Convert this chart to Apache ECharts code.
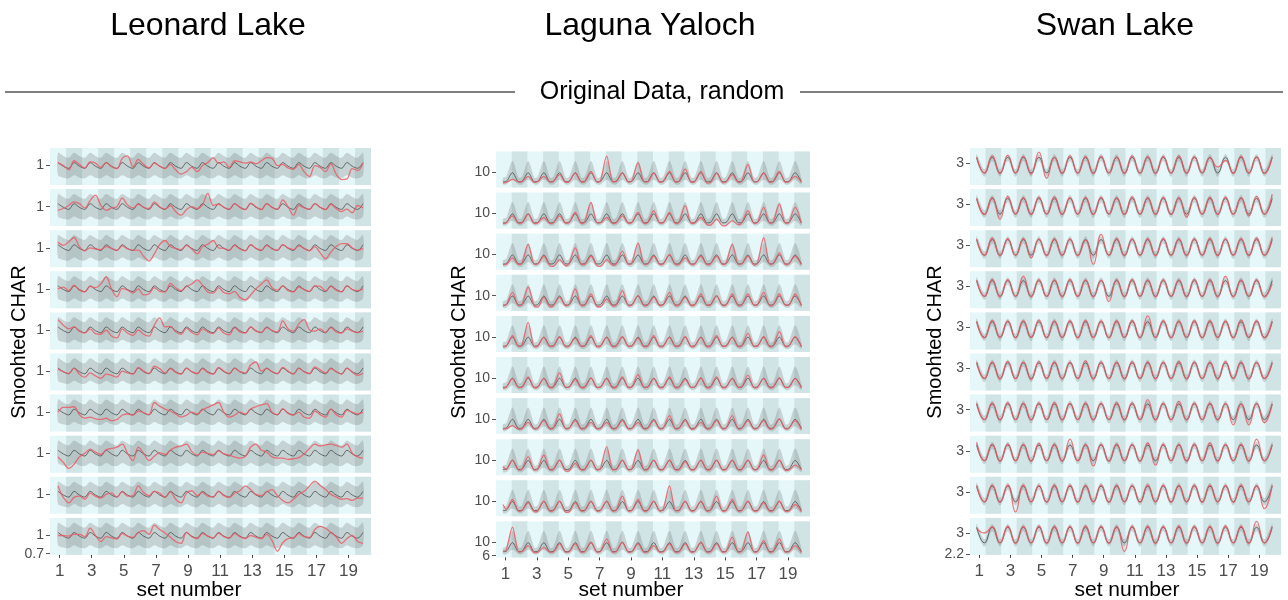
<!DOCTYPE html>
<html>
<head>
<meta charset="utf-8">
<script src="https://cdn.jsdelivr.net/npm/echarts@6/dist/echarts.min.js"></script>
<style>
  html, body { margin: 0; padding: 0; background: #ffffff; }
  #chart { width: 1288px; height: 600px; }
</style>
</head>
<body>
<div id="chart"></div>
<script>
// ---------------- data ----------------
const lakeNames = ['Leonard Lake', 'Laguna Yaloch', 'Swan Lake'];
const sectionLabel = 'Original Data, random';
const yTitle = 'Smoohted CHAR';
const xTitle = 'set number';
const setTicks = [1, 3, 5, 7, 9, 11, 13, 15, 17, 19];
// shaded (every other) set spans along the x axis
const shadedSpans = [[1.4, 2.4], [3.4, 4.4], [5.4, 6.4], [7.4, 8.4], [9.4, 10.4],
                     [11.4, 12.4], [13.4, 14.4], [15.4, 16.4], [17.4, 18.4], [19.4, 20.4]];

// Leonard Lake: three samples per set cycle
const leonardOffsets = [0.9, 1.23, 1.57];
const leonardMeanCycle = [1.05, 0.99, 0.955];
const leonardLowCycle = [0.84, 0.80, 0.79];
const leonardHighCycle = [1.21, 1.16, 1.13];
const leonardTick = 1;
const leonardLowTick = 0.7;
const leonardRed = [
  [1.05,1.00,0.93, 1.08,1.02,0.96, 1.06,1.04,0.97, 1.05,0.98,0.95, 1.12,1.16,0.98, 1.10,1.02,0.96, 1.04,0.99,0.95, 1.02,0.93,0.86, 0.90,0.97,0.90, 1.00,1.05,1.13, 1.04,1.06,0.97, 1.08,1.06,1.04, 1.06,1.03,1.08, 1.13,1.12,1.00, 1.02,0.96,0.94, 1.02,0.90,0.82, 1.00,0.97,0.90, 1.03,0.86,0.77, 0.78,0.95,0.92, 1.04],
  [0.94,0.97,1.02, 1.08,1.05,0.98, 1.10,1.19,1.02, 0.94,0.98,1.00, 1.14,1.03,0.98, 1.04,0.99,0.97, 1.08,1.00,0.96, 1.02,0.92,0.86, 0.95,1.00,0.97, 1.03,1.22,1.02, 1.04,0.99,0.96, 1.05,0.99,0.95, 1.06,1.00,0.95, 1.05,0.99,0.96, 1.11,1.00,0.86, 1.02,0.98,0.96, 1.05,0.99,0.95, 1.04,0.97,0.92, 0.96,0.90,1.02, 0.98],
  [1.09,1.04,1.10, 1.17,1.02,0.95, 1.00,0.98,0.97, 1.02,0.99,0.96, 1.03,0.98,0.96, 0.96,0.86,0.78, 0.90,1.05,1.12, 1.02,0.99,0.97, 1.04,0.98,0.90, 1.02,1.06,1.12, 1.00,0.99,0.96, 1.04,0.98,0.95, 1.05,0.99,0.96, 1.04,0.98,0.96, 1.05,1.00,0.97, 1.03,0.99,0.95, 1.02,0.92,0.82, 0.93,1.02,1.07, 1.07,1.00,0.96, 0.99],
  [1.00,1.03,0.97, 1.06,0.98,0.95, 1.04,1.02,1.08, 1.20,1.00,0.87, 1.01,0.98,0.93, 1.00,0.90,0.92, 1.02,0.96,0.95, 1.09,1.02,0.97, 1.04,1.08,1.15, 1.06,0.95,0.93, 1.02,0.94,0.92, 0.96,0.86,0.82, 0.90,1.00,1.08, 1.15,1.02,0.98, 1.05,0.97,0.95, 1.03,0.99,0.96, 1.05,1.04,0.97, 1.04,0.98,0.95, 1.05,0.99,0.97, 1.00],
  [1.17,1.08,1.02, 1.05,0.98,0.95, 1.02,0.94,0.93, 1.00,0.90,0.87, 1.02,0.95,0.91, 1.00,0.93,0.90, 1.08,1.20,1.05, 1.06,0.97,0.93, 1.03,0.96,0.92, 1.02,0.97,0.94, 1.03,0.95,0.92, 1.04,0.97,0.95, 1.05,0.98,0.96, 1.04,0.99,0.97, 1.15,1.02,0.98, 1.10,1.17,1.00, 0.98,1.02,0.96, 1.04,0.97,0.95, 1.02,0.98,0.96, 0.98],
  [1.03,0.99,0.96, 1.05,0.95,0.90, 0.97,0.92,0.88, 0.95,0.93,0.90, 1.00,0.97,0.95, 1.06,1.00,0.96, 1.08,1.04,0.97, 1.04,0.98,0.95, 1.05,0.99,0.96, 1.04,0.98,0.95, 1.06,1.00,0.96, 1.05,0.99,0.97, 1.10,1.15,1.00, 1.04,0.99,0.96, 1.06,1.00,0.95, 1.05,0.99,0.96, 1.07,1.02,0.97, 1.04,0.99,0.95, 1.05,0.98,0.93, 0.97],
  [1.00,1.08,1.08, 1.09,0.96,0.90, 0.92,0.89,0.88, 0.90,0.86,0.88, 0.95,0.97,0.95, 1.02,0.99,0.96, 1.16,1.10,1.05, 1.02,0.97,0.92, 0.95,1.00,0.97, 1.04,1.08,1.12, 1.16,1.00,0.92, 0.95,1.00,0.97, 1.05,1.09,1.12, 1.14,1.00,0.96, 1.06,0.98,0.95, 1.00,0.92,0.90, 1.02,0.96,0.92, 1.05,0.96,0.92, 1.03,1.00,0.97, 1.00],
  [0.94,0.85,0.75, 0.82,0.94,1.00, 1.07,1.02,0.98, 1.06,1.08,1.10, 1.15,1.00,0.88, 1.10,1.00,0.88, 0.95,1.01,0.98, 1.05,1.10,1.12, 1.15,1.03,0.97, 1.02,1.00,0.98, 1.04,0.99,0.97, 0.94,0.92,0.95, 1.10,1.15,1.05, 1.02,0.94,0.92, 0.92,0.90,0.91, 0.93,0.99,1.08, 1.15,1.12,1.14, 1.15,1.13,1.10, 1.15,1.00,0.94, 0.92],
  [1.14,0.95,0.86, 0.95,0.97,0.92, 1.02,0.97,0.94, 1.00,1.02,0.96, 1.04,0.97,0.98, 1.14,1.03,0.98, 1.05,1.02,0.95, 1.04,0.92,0.86, 1.02,1.06,0.98, 1.03,0.97,0.96, 1.05,0.98,0.95, 1.02,1.06,1.14, 1.08,1.00,0.98, 1.04,1.08,0.98, 0.90,0.86,0.92, 1.00,1.05,1.14, 1.22,1.15,1.08, 1.00,0.96,0.92, 0.93,0.90,0.94, 0.94],
  [1.00,1.00,0.99, 1.02,1.02,0.98, 1.12,1.00,0.90, 0.98,0.96,0.94, 1.03,0.99,0.97, 1.05,1.08,1.02, 1.17,1.10,1.04, 0.97,0.90,0.87, 1.05,0.98,0.95, 1.03,0.99,0.96, 1.04,0.98,0.96, 1.03,0.98,0.95, 1.00,0.97,0.95, 1.02,0.92,0.74, 0.88,0.95,0.96, 1.03,0.98,0.97, 1.10,1.15,1.12, 1.05,0.98,0.87, 0.95,1.00,0.90, 0.87]
];

// Laguna Yaloch: trough start, trough end, peak in each set cycle
const lagunaOffsets = [0.85, 1.05, 1.45];
const lagunaMeanCycle = [7.2, 7.3, 9.9];
const lagunaLowCycle = [6.4, 6.4, 7.8];
const lagunaHighCycle = [8.4, 8.7, 13.4];
const lagunaTick = 10;
const lagunaLowTick = 6;
const lagunaRed = [
  [6.8,7.0,7.9, 7.1,7.2,8.8, 7.0,7.2,8.8, 7.1,7.3,9.3, 7.0,7.2,9.8, 7.1,7.3,10.3, 7.0,7.4,14.8, 7.2,7.3,9.8, 7.1,7.5,12.8, 7.2,7.2,9.8, 7.0,7.3,10.3, 7.1,7.3,11.0, 7.0,7.2,10.3, 6.8,6.9,9.8, 6.9,7.1,9.3, 7.0,7.4,12.3, 7.1,7.2,9.8, 7.0,7.3,10.3, 7.0,7.2,8.8, 7.1],
  [7.0,7.2,9.3, 7.1,7.2,9.8, 7.0,7.2,8.8, 7.0,7.2,9.3, 7.1,7.3,10.3, 7.0,7.5,13.3, 7.2,7.2,8.8, 7.0,7.2,9.3, 7.1,7.3,10.3, 7.0,7.3,10.8, 7.1,7.2,10.3, 7.0,7.4,12.3, 7.0,7.1,8.8, 6.6,6.5,8.3, 6.3,6.4,7.8, 6.6,7.2,10.8, 7.0,7.3,11.8, 7.1,7.4,12.8, 7.1,7.3,11.8, 7.1],
  [7.0,7.1,9.0, 7.0,7.4,13.0, 7.1,7.2,9.5, 6.6,6.5,8.5, 6.6,7.3,12.0, 7.0,7.1,9.5, 6.6,6.5,8.5, 6.8,7.2,11.0, 7.1,7.5,13.5, 7.1,7.2,9.5, 7.0,7.2,10.0, 7.0,7.1,9.0, 7.0,7.2,9.5, 7.0,7.2,9.5, 7.0,7.4,13.0, 7.1,7.2,9.5, 6.8,7.5,15.0, 7.1,7.3,10.5, 7.0,7.2,9.5, 7.0],
  [7.0,7.3,11.0, 7.0,7.3,12.5, 6.8,6.6,9.5, 6.6,7.0,9.5, 7.0,7.3,12.0, 7.0,7.2,10.5, 6.7,6.7,9.0, 6.9,7.2,11.5, 7.0,7.2,10.0, 7.0,7.2,9.5, 7.0,7.3,11.0, 7.0,7.2,9.5, 7.0,7.3,10.5, 7.1,7.2,10.0, 7.0,7.2,10.5, 7.0,7.2,10.5, 7.1,7.3,11.0, 7.0,7.2,10.5, 7.1,7.2,10.5, 7.0],
  [7.0,7.2,10.3, 7.1,7.5,14.3, 7.0,7.2,9.8, 7.1,7.2,10.0, 7.0,7.2,9.5, 7.1,7.3,10.3, 7.0,7.2,9.8, 7.0,7.2,10.0, 7.1,7.2,9.5, 7.0,7.2,10.3, 7.0,7.2,9.8, 7.1,7.2,10.0, 7.0,7.2,9.8, 7.0,7.2,10.3, 7.1,7.2,9.8, 7.0,7.3,11.0, 7.1,7.2,10.0, 7.0,7.3,11.5, 7.0,7.2,10.0, 7.0],
  [7.0,7.2,9.8, 7.1,7.2,10.3, 7.0,7.2,9.8, 7.0,7.3,11.5, 7.1,7.2,9.5, 7.0,7.2,10.0, 7.1,7.2,9.8, 7.0,7.2,10.3, 7.0,7.3,11.0, 7.1,7.2,9.8, 7.0,7.2,10.3, 7.0,7.2,9.5, 7.1,7.2,10.0, 7.0,7.2,10.3, 7.0,7.2,9.8, 7.1,7.3,10.8, 7.0,7.2,9.8, 7.0,7.2,10.0, 7.1,7.2,9.8, 7.0],
  [7.0,7.1,8.0, 6.9,7.1,9.0, 7.0,7.2,9.5, 7.0,7.3,11.5, 7.0,7.2,9.5, 7.0,7.1,9.0, 7.0,7.1,9.0, 7.0,7.2,9.5, 7.0,7.1,9.0, 7.0,7.2,9.5, 7.0,7.3,11.0, 7.0,7.2,9.5, 6.9,7.1,9.0, 7.0,7.2,9.5, 7.0,7.3,11.0, 7.0,7.2,9.5, 7.0,7.2,9.5, 7.0,7.2,10.0, 7.0,7.2,9.5, 6.9],
  [8.0,7.2,10.0, 7.0,7.3,11.0, 7.0,7.3,11.5, 7.0,7.2,10.0, 6.7,6.8,9.0, 7.0,7.2,10.0, 7.0,7.5,14.0, 7.1,7.2,10.0, 7.0,7.4,13.0, 7.0,7.2,10.0, 7.0,7.2,10.0, 7.0,7.1,9.5, 7.0,7.2,10.0, 7.0,7.2,10.0, 7.0,7.2,10.0, 7.0,7.2,10.0, 7.0,7.3,11.5, 7.0,7.2,10.0, 6.9,7.0,8.5, 7.2],
  [9.0,7.6,10.5, 7.0,7.2,9.5, 6.8,7.0,10.0, 7.0,7.2,10.0, 6.7,6.8,9.5, 7.0,7.2,10.0, 7.0,7.2,10.0, 7.0,7.3,11.5, 7.0,7.2,10.5, 7.0,7.2,10.0, 7.0,7.6,14.5, 7.1,7.2,10.0, 7.0,7.2,10.0, 7.0,7.3,11.5, 7.0,7.2,10.5, 7.0,7.2,10.0, 7.0,7.1,9.5, 7.0,7.2,10.0, 6.9,7.0,9.0, 6.9],
  [7.3,7.8,14.5, 7.1,7.2,9.0, 6.9,7.0,8.5, 7.0,7.1,9.5, 7.0,7.1,9.5, 7.0,7.2,10.0, 7.0,7.3,11.0, 7.0,7.2,10.0, 7.0,7.1,9.5, 7.0,7.1,9.0, 7.0,7.1,9.5, 7.0,7.1,9.5, 7.0,7.2,10.0, 7.0,7.1,9.5, 7.0,7.3,11.5, 7.0,7.4,13.0, 7.0,7.2,10.5, 7.0,7.3,11.0, 7.0,7.1,9.0, 6.9]
];

// Swan Lake: peak and trough of each set cycle
const swanOffsets = [0.83, 1.33];
const swanMeanCycle = [3.22, 2.62];
const swanLowCycle = [3.08, 2.48];
const swanHighCycle = [3.35, 2.76];
const swanTick = 3;
const swanLowTick = 2.2;
const swanRed = [
  [3.22,2.62, 3.28,2.60, 3.30,2.62, 3.26,2.58, 3.42,2.42, 3.22,2.60, 3.28,2.62, 3.25,2.60, 3.27,2.63, 3.24,2.60, 3.28,2.62, 3.25,2.60, 3.26,2.62, 3.28,2.60, 3.25,2.63, 3.20,2.85, 3.10,2.60, 3.27,2.62, 3.25,2.60, 3.24],
  [3.22,2.60, 3.26,2.42, 3.30,2.62, 3.25,2.60, 3.27,2.62, 3.28,2.60, 3.25,2.62, 3.26,2.60, 3.27,2.63, 3.25,2.60, 3.28,2.62, 3.25,2.60, 3.26,2.60, 3.25,2.50, 3.27,2.62, 3.26,2.60, 3.27,2.62, 3.25,2.55, 3.30,2.62, 3.39],
  [3.25,2.62, 3.28,2.60, 3.26,2.62, 3.27,2.52, 3.25,2.60, 3.26,2.62, 3.25,2.60, 3.20,2.27, 3.42,2.62, 3.27,2.60, 3.25,2.62, 3.26,2.60, 3.27,2.62, 3.25,2.60, 3.26,2.62, 3.27,2.60, 3.25,2.62, 3.26,2.60, 3.28,2.62, 3.30],
  [3.24,2.62, 3.27,2.60, 3.26,2.62, 3.39,2.60, 3.26,2.62, 3.25,2.60, 3.27,2.62, 3.25,2.60, 3.24,2.42, 3.26,2.60, 3.27,2.62, 3.25,2.60, 3.26,2.62, 3.25,2.60, 3.27,2.62, 3.26,2.60, 3.39,2.60, 3.25,2.62, 3.26,2.60, 3.10],
  [3.24,2.60, 3.27,2.62, 3.25,2.60, 3.26,2.62, 3.28,2.60, 3.25,2.62, 3.26,2.60, 3.27,2.62, 3.25,2.60, 3.26,2.62, 3.27,2.60, 3.45,2.62, 3.26,2.60, 3.25,2.62, 3.27,2.60, 3.26,2.62, 3.25,2.60, 3.28,2.62, 3.26,2.60, 3.25],
  [3.25,2.62, 3.26,2.60, 3.28,2.62, 3.25,2.58, 3.27,2.62, 3.26,2.60, 3.25,2.62, 3.30,2.60, 3.26,2.62, 3.25,2.60, 3.27,2.62, 3.26,2.60, 3.25,2.62, 3.28,2.60, 3.26,2.62, 3.25,2.60, 3.27,2.62, 3.26,2.60, 3.25,2.62, 3.24],
  [3.25,2.62, 3.26,2.60, 3.27,2.62, 3.25,2.60, 3.26,2.62, 3.27,2.60, 3.25,2.62, 3.26,2.60, 3.25,2.62, 3.27,2.60, 3.26,2.62, 3.39,2.60, 3.25,2.62, 3.32,2.60, 3.26,2.62, 3.25,2.60, 3.24,2.42, 3.22,2.42, 3.25,2.50, 3.22],
  [3.32,2.62, 3.26,2.60, 3.27,2.62, 3.25,2.60, 3.28,2.62, 3.26,2.60, 3.45,2.62, 3.25,2.42, 3.26,2.60, 3.27,2.62, 3.25,2.60, 3.30,2.45, 3.26,2.62, 3.25,2.60, 3.27,2.62, 3.30,2.60, 3.25,2.62, 3.26,2.60, 3.45,2.62, 3.25],
  [3.25,2.62, 3.26,2.60, 3.27,2.23, 3.26,2.62, 3.25,2.60, 3.27,2.62, 3.26,2.60, 3.25,2.62, 3.27,2.60, 3.26,2.62, 3.25,2.60, 3.27,2.62, 3.26,2.60, 3.25,2.62, 3.27,2.60, 3.26,2.62, 3.25,2.60, 3.27,2.62, 3.25,2.36, 3.26],
  [3.19,3.00, 3.24,2.62, 3.26,2.60, 3.25,2.62, 3.27,2.60, 3.26,2.62, 3.25,2.60, 3.27,2.62, 3.26,2.60, 3.25,2.29, 3.27,2.62, 3.26,2.60, 3.25,2.62, 3.27,2.60, 3.26,2.62, 3.25,2.60, 3.27,2.62, 3.26,2.60, 3.45,2.62, 3.25]
];

// ---------------- layout & style ----------------
const FONT = '"Liberation Sans", Arial, Helvetica, sans-serif';
const PANEL_LIGHT = '#e6f7f9';
const PANEL_DARK = '#d0e3e5';
const RIBBON = 'rgba(112,118,120,0.28)';
const MEAN_COLOR = 'rgba(70,70,70,0.75)';
const RED_COLOR = 'rgba(236,88,98,0.8)';
const ROW_STEP = 41.1;
const X_MIN = 0.4, X_MAX = 20.4;

const lakes = [
  { left: 50, width: 321, top: 148, height: 37, yMin: 0.68, yMax: 1.29, smooth: 0.35,
    offsets: leonardOffsets, mean: leonardMeanCycle, low: leonardLowCycle, high: leonardHighCycle,
    red: leonardRed, tick: leonardTick, lowTick: leonardLowTick },
  { left: 496, width: 314, top: 151.5, height: 36, yMin: 5.5, yMax: 16.2, smooth: 0.3,
    offsets: lagunaOffsets, mean: lagunaMeanCycle, low: lagunaLowCycle, high: lagunaHighCycle,
    red: lagunaRed, tick: lagunaTick, lowTick: lagunaLowTick },
  { left: 970, width: 311, top: 148, height: 37, yMin: 2.16, yMax: 3.58, smooth: 0.5,
    offsets: swanOffsets, mean: swanMeanCycle, low: swanLowCycle, high: swanHighCycle,
    red: swanRed, tick: swanTick, lowTick: swanLowTick }
];

const grids = [], xAxes = [], yAxes = [], series = [];

function valueAxis(gi, lake, value) {
  return {
    gridIndex: gi, type: 'value', position: 'left', offset: 0, min: lake.yMin, max: lake.yMax,
    axisLine: { show: false }, splitLine: { show: false },
    axisTick: { show: true, customValues: [value], length: 4, lineStyle: { color: '#555', width: 1 } },
    axisLabel: { customValues: [value], showMinLabel: true, hideOverlap: false, margin: 6,
                 fontSize: 14, color: '#4d4d4d', fontFamily: FONT }
  };
}

lakes.forEach(function (lake) {
  const n = lake.offsets.length;
  lake.red.forEach(function (row, r) {
    const gi = grids.length;
    const isBottom = r === lake.red.length - 1;
    // sample position: whole set cycles plus the offset inside the cycle
    const xs = row.map(function (_, i) { return Math.floor(i / n) + lake.offsets[i % n]; });
    const meanVals = xs.map(function (_, i) { return lake.mean[i % n]; });
    const lowVals = xs.map(function (_, i) { return lake.low[i % n]; });
    const highVals = xs.map(function (_, i) { return lake.high[i % n]; });

    grids.push({
      left: lake.left, width: lake.width, top: lake.top + r * ROW_STEP, height: lake.height,
      show: true, backgroundColor: PANEL_LIGHT, borderWidth: 0
    });
    xAxes.push({
      gridIndex: gi, type: 'value', min: X_MIN, max: X_MAX,
      axisLine: { show: false }, splitLine: { show: false },
      axisTick: { show: isBottom, customValues: setTicks, length: 3, lineStyle: { color: '#444', width: 1 } },
      axisLabel: { show: isBottom, customValues: setTicks, margin: 8, fontSize: 17, color: '#4d4d4d',
                   fontFamily: FONT, hideOverlap: false, showMinLabel: true }
    });
    const yi = yAxes.length;
    yAxes.push(valueAxis(gi, lake, lake.tick));
    // bottom facet also marks the lower end of the shared scale
    if (isBottom) yAxes.push(valueAxis(gi, lake, lake.lowTick));

    // shaded set spans
    series.push({
      type: 'custom', xAxisIndex: gi, yAxisIndex: yi, z: 0, silent: true,
      data: shadedSpans, encode: { x: [0, 1] },
      renderItem: function (params, api) {
        const p0 = api.coord([api.value(0), lake.yMax]);
        const p1 = api.coord([api.value(1), lake.yMin]);
        return { type: 'rect', shape: { x: p0[0], y: p0[1], width: p1[0] - p0[0], height: p1[1] - p0[1] },
                 style: { fill: PANEL_DARK } };
      }
    });
    // ribbon of the randomised runs
    series.push({
      type: 'custom', xAxisIndex: gi, yAxisIndex: yi, z: 1, silent: true,
      data: [[xs[0], lowVals[0]]],
      renderItem: function (params, api) {
        const pts = [];
        for (let i = 0; i < xs.length; i++) pts.push(api.coord([xs[i], highVals[i]]));
        for (let i = xs.length - 1; i >= 0; i--) pts.push(api.coord([xs[i], lowVals[i]]));
        return { type: 'polygon', shape: { points: pts, smooth: 0.3 }, style: { fill: RIBBON } };
      }
    });
    // mean of the randomised runs
    series.push({
      type: 'line', xAxisIndex: gi, yAxisIndex: yi, z: 2, silent: true,
      data: xs.map(function (x, i) { return [x, meanVals[i]]; }),
      showSymbol: false, smooth: lake.smooth,
      lineStyle: { color: MEAN_COLOR, width: 1 }
    });
    // observed record
    series.push({
      type: 'line', xAxisIndex: gi, yAxisIndex: yi, z: 3, silent: true,
      data: xs.map(function (x, i) { return [x, row[i]]; }),
      showSymbol: false, smooth: lake.smooth,
      lineStyle: { color: RED_COLOR, width: 1.3 }
    });
  });
});

function label(text, x, y, size, rotation) {
  return {
    type: 'text', x: x, y: y, rotation: rotation || 0, silent: true,
    style: { text: text, font: size + 'px ' + FONT, fill: '#000',
             align: 'center', verticalAlign: 'middle', textAlign: 'center', textVerticalAlign: 'middle' }
  };
}

const graphic = [
  label(lakeNames[0], 208, 26, 32),
  label(lakeNames[1], 650, 26, 32),
  label(lakeNames[2], 1115, 26, 32),
  { type: 'line', silent: true, shape: { x1: 5, y1: 92, x2: 515, y2: 92 }, style: { stroke: '#555', lineWidth: 1.5 } },
  { type: 'line', silent: true, shape: { x1: 800, y1: 92, x2: 1283, y2: 92 }, style: { stroke: '#555', lineWidth: 1.5 } },
  label(sectionLabel, 662, 92, 25),
  label(yTitle, 19, 342, 20, Math.PI / 2),
  label(yTitle, 459, 342, 20, Math.PI / 2),
  label(yTitle, 935, 342, 20, Math.PI / 2),
  label(xTitle, 189, 590, 21),
  label(xTitle, 631, 590, 21),
  label(xTitle, 1127, 590, 21)
];

const chart = echarts.init(document.getElementById('chart'), null, { renderer: 'canvas', width: 1288, height: 600 });
chart.setOption({
  animation: false,
  backgroundColor: '#ffffff',
  grid: grids,
  xAxis: xAxes,
  yAxis: yAxes,
  series: series,
  graphic: graphic
});
</script>
</body>
</html>
